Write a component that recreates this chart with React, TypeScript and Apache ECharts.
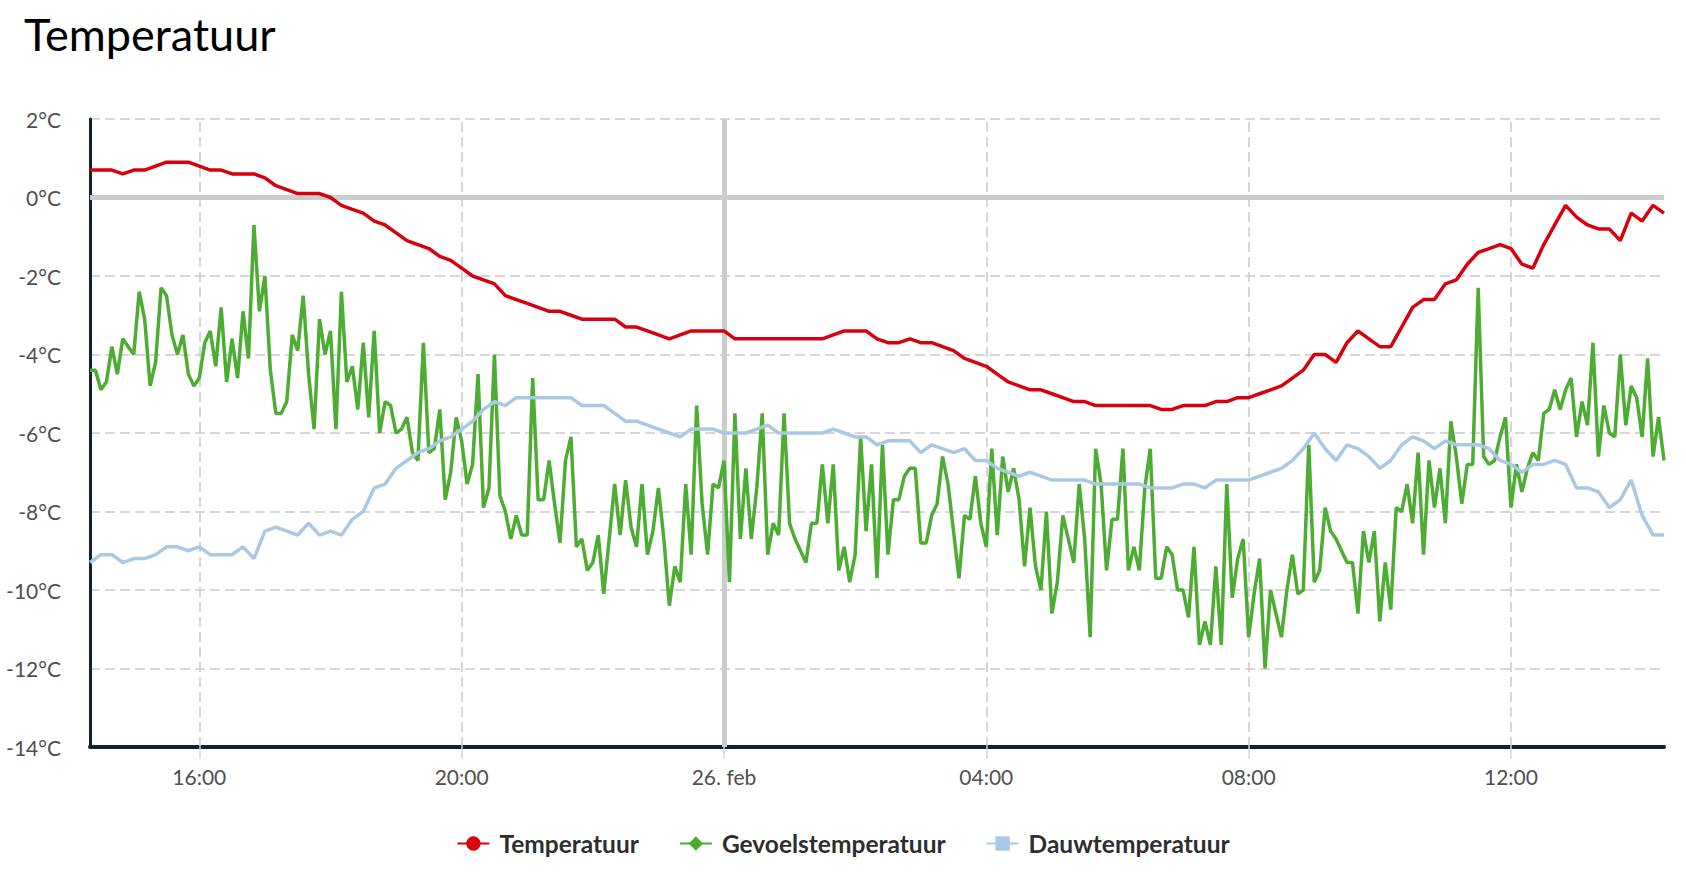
import React, { useEffect, useRef } from "react";
import * as echarts from "echarts";

// minutes since 25 Feb 00:00 — first sample 14:20
const START_MIN = 860;
const END_MIN = 2300;
const STEP_TEMP = 10; // minutes between Temperatuur / Dauwtemperatuur samples
const STEP_FEEL = 5; // minutes between Gevoelstemperatuur samples

const xTickMinutes = [960, 1200, 1440, 1680, 1920, 2160];
const xTickLabels = ["16:00", "20:00", "26. feb", "04:00", "08:00", "12:00"];
const dashedGridMinutes = [960, 1200, 1680, 1920, 2160];
const dayBreakMinute = 1440;

const temperatuur = [
  0.7, 0.7, 0.7, 0.6, 0.7, 0.7, 0.8, 0.9, 0.9, 0.9, 0.8, 0.7,
  0.7, 0.6, 0.6, 0.6, 0.5, 0.3, 0.2, 0.1, 0.1, 0.1, 0.0, -0.2,
  -0.3, -0.4, -0.6, -0.7, -0.9, -1.1, -1.2, -1.3, -1.5, -1.6, -1.8, -2.0,
  -2.1, -2.2, -2.5, -2.6, -2.7, -2.8, -2.9, -2.9, -3.0, -3.1, -3.1, -3.1,
  -3.1, -3.3, -3.3, -3.4, -3.5, -3.6, -3.5, -3.4, -3.4, -3.4, -3.4, -3.6,
  -3.6, -3.6, -3.6, -3.6, -3.6, -3.6, -3.6, -3.6, -3.5, -3.4, -3.4, -3.4,
  -3.6, -3.7, -3.7, -3.6, -3.7, -3.7, -3.8, -3.9, -4.1, -4.2, -4.3, -4.5,
  -4.7, -4.8, -4.9, -4.9, -5.0, -5.1, -5.2, -5.2, -5.3, -5.3, -5.3, -5.3,
  -5.3, -5.3, -5.4, -5.4, -5.3, -5.3, -5.3, -5.2, -5.2, -5.1, -5.1, -5.0,
  -4.9, -4.8, -4.6, -4.4, -4.0, -4.0, -4.2, -3.7, -3.4, -3.6, -3.8, -3.8,
  -3.3, -2.8, -2.6, -2.6, -2.2, -2.1, -1.7, -1.4, -1.3, -1.2, -1.3, -1.7,
  -1.8, -1.2, -0.7, -0.2, -0.5, -0.7, -0.8, -0.8, -1.1, -0.4, -0.6, -0.2,
  -0.4,
];

const dauwtemperatuur = [
  -9.3, -9.1, -9.1, -9.3, -9.2, -9.2, -9.1, -8.9, -8.9, -9.0, -8.9, -9.1,
  -9.1, -9.1, -8.9, -9.2, -8.5, -8.4, -8.5, -8.6, -8.3, -8.6, -8.5, -8.6,
  -8.2, -8.0, -7.4, -7.3, -6.9, -6.7, -6.5, -6.4, -6.2, -6.1, -5.9, -5.7,
  -5.4, -5.2, -5.3, -5.1, -5.1, -5.1, -5.1, -5.1, -5.1, -5.3, -5.3, -5.3,
  -5.5, -5.7, -5.7, -5.8, -5.9, -6.0, -6.1, -5.9, -5.9, -5.9, -6.0, -6.0,
  -6.0, -5.9, -5.8, -6.0, -6.0, -6.0, -6.0, -6.0, -5.9, -6.0, -6.1, -6.1,
  -6.3, -6.2, -6.2, -6.2, -6.5, -6.3, -6.4, -6.5, -6.4, -6.7, -6.7, -6.9,
  -7.0, -7.1, -7.0, -7.1, -7.2, -7.2, -7.2, -7.2, -7.3, -7.3, -7.3, -7.3,
  -7.3, -7.4, -7.4, -7.4, -7.3, -7.3, -7.4, -7.2, -7.2, -7.2, -7.2, -7.1,
  -7.0, -6.9, -6.7, -6.4, -6.0, -6.4, -6.7, -6.3, -6.4, -6.6, -6.9, -6.7,
  -6.3, -6.1, -6.2, -6.4, -6.2, -6.3, -6.3, -6.3, -6.4, -6.7, -6.8, -7.0,
  -6.8, -6.8, -6.7, -6.8, -7.4, -7.4, -7.5, -7.9, -7.7, -7.2, -8.1, -8.6,
  -8.6,
];

const gevoelstemperatuur = [
  -4.4, -4.4, -4.9, -4.7, -3.8, -4.5, -3.6, -3.8, -4.0, -2.4, -3.1, -4.8,
  -4.2, -2.3, -2.5, -3.5, -4.0, -3.5, -4.5, -4.8, -4.6, -3.7, -3.4, -4.3,
  -2.8, -4.7, -3.6, -4.6, -2.9, -4.1, -0.7, -2.9, -2.0, -4.4, -5.5, -5.5,
  -5.2, -3.5, -3.9, -2.5, -4.5, -5.9, -3.1, -4.0, -3.4, -5.9, -2.4, -4.7,
  -4.3, -5.4, -3.7, -5.6, -3.4, -6.0, -5.2, -5.3, -6.0, -5.9, -5.6, -6.5,
  -6.7, -3.7, -6.5, -6.4, -5.4, -7.7, -7.0, -5.6, -6.2, -7.3, -6.8, -4.5,
  -7.9, -7.4, -4.0, -7.6, -8.0, -8.7, -8.1, -8.6, -8.6, -4.6, -7.7, -7.7,
  -6.7, -7.8, -8.8, -6.7, -6.1, -8.9, -8.7, -9.5, -9.3, -8.6, -10.1, -8.7,
  -7.3, -8.6, -7.2, -8.4, -8.9, -7.3, -9.1, -8.5, -7.4, -8.7, -10.4, -9.4,
  -9.8, -7.3, -9.1, -5.3, -7.8, -9.1, -7.3, -7.4, -6.7, -9.8, -5.5, -8.7,
  -6.9, -8.7, -7.4, -5.5, -9.1, -8.3, -8.6, -5.5, -8.3, -8.7, -9.0, -9.3,
  -8.3, -8.3, -6.8, -8.3, -6.8, -9.5, -8.9, -9.8, -9.1, -6.1, -8.5, -6.8,
  -9.7, -6.3, -9.1, -7.7, -7.7, -7.1, -6.9, -6.9, -8.8, -8.8, -8.1, -7.8,
  -6.6, -7.3, -8.5, -9.7, -8.1, -8.2, -7.1, -8.3, -8.9, -6.4, -8.6, -6.6,
  -7.5, -6.9, -7.7, -9.4, -7.9, -9.4, -10.0, -8.0, -10.6, -9.8, -8.1, -8.7,
  -9.3, -7.3, -8.7, -11.2, -6.4, -7.3, -9.5, -8.2, -8.2, -6.4, -9.5, -8.9,
  -9.5, -7.4, -6.4, -9.7, -9.7, -8.9, -9.1, -10.0, -10.0, -10.7, -8.9, -11.4,
  -10.8, -11.4, -9.4, -11.4, -7.3, -10.2, -9.2, -8.7, -11.2, -10.1, -9.2, -12.0,
  -10.0, -10.6, -11.2, -10.0, -9.1, -10.1, -10.0, -6.3, -9.8, -9.5, -7.9, -8.5,
  -8.7, -9.0, -9.3, -9.3, -10.6, -8.5, -9.3, -8.5, -10.8, -9.3, -10.5, -7.9,
  -8.0, -7.3, -8.3, -6.5, -9.1, -6.7, -7.9, -6.9, -8.3, -5.7, -6.6, -7.8,
  -6.8, -6.8, -2.3, -6.6, -6.8, -6.7, -6.1, -5.6, -7.9, -6.8, -7.5, -6.9,
  -6.5, -6.7, -5.5, -5.4, -4.9, -5.4, -4.9, -4.6, -6.1, -5.2, -5.8, -3.7,
  -6.6, -5.3, -6.0, -6.1, -4.0, -5.8, -4.8, -5.1, -6.1, -4.1, -6.6, -5.6,
  -6.7,
];

const seriesNames = ["Temperatuur", "Gevoelstemperatuur", "Dauwtemperatuur"];
const seriesColors = ["#d8000e", "#4dad33", "#a9c9e3"];
const seriesSymbols = ["circle", "diamond", "rect"];

const FONT = "Lato, 'Noto Sans', sans-serif";

function toPairs(values: number[], step: number) {
  return values.map((v, i) => [START_MIN + i * step, v]);
}

function buildOption() {
  const dataSets = [
    toPairs(temperatuur, STEP_TEMP),
    toPairs(gevoelstemperatuur, STEP_FEEL),
    toPairs(dauwtemperatuur, STEP_TEMP),
  ];

  const lineSeries = seriesNames.map((name, i) => ({
    name,
    type: "line",
    data: dataSets[i],
    symbol: seriesSymbols[i],
    symbolSize: 12,
    showSymbol: false,
    z: 3 + i,
    itemStyle: { color: seriesColors[i] },
    lineStyle: { color: seriesColors[i], width: 3.5 },
    emphasis: { disabled: true },
  }));

  const gridSeries = {
    type: "line",
    data: [],
    silent: true,
    z: 1,
    markLine: {
      silent: true,
      symbol: "none",
      z: 1,
      label: { show: false },
      emphasis: { disabled: true },
      data: [
        ...dashedGridMinutes.map((m) => ({
          xAxis: m,
          lineStyle: { type: [10, 5], width: 1.5, color: "#c9c9c9" },
        })),
        {
          xAxis: dayBreakMinute,
          lineStyle: { type: "solid", width: 5, color: "#cccccc" },
        },
        {
          yAxis: 0,
          lineStyle: { type: "solid", width: 5, color: "#cccccc" },
        },
      ],
    },
  };

  return {
    animation: false,
    backgroundColor: "#ffffff",
    title: {
      text: "Temperatuur",
      left: 19,
      top: 6,
      textStyle: {
        fontFamily: FONT,
        fontSize: 45,
        fontWeight: "normal",
        color: "#000000",
      },
    },
    legend: {
      data: seriesNames,
      left: "center",
      top: 826,
      itemWidth: 32,
      itemHeight: 18,
      itemGap: 40,
      textStyle: {
        fontFamily: FONT,
        fontSize: 24.5,
        fontWeight: "bold",
        color: "#2e2e2e",
        padding: [0, 0, 0, 5],
      },
    },
    grid: { left: 90, top: 119, width: 1574, height: 628, containLabel: false },
    xAxis: {
      type: "value",
      min: START_MIN,
      max: END_MIN,
      axisLine: { show: true, onZero: false, lineStyle: { color: "#0f2333", width: 4 } },
      axisTick: {
        show: true,
        customValues: xTickMinutes,
        length: 12,
        lineStyle: { color: "#ccd6eb", width: 1.5 },
      },
      axisLabel: {
        customValues: xTickMinutes,
        margin: 19,
        fontFamily: FONT,
        fontSize: 21,
        color: "#505050",
        formatter: (v: number) => {
          const idx = xTickMinutes.indexOf(v);
          return idx >= 0 ? xTickLabels[idx] : "";
        },
      },
      splitLine: { show: false },
    },
    yAxis: {
      type: "value",
      min: -14,
      max: 2,
      interval: 2,
      axisLine: { show: true, lineStyle: { color: "#0f2333", width: 3 } },
      axisTick: { show: false },
      axisLabel: {
        margin: 29,
        fontFamily: FONT,
        fontSize: 21,
        color: "#505050",
        formatter: (v: number) => `${v}°C`,
      },
      splitLine: {
        show: true,
        lineStyle: { type: [10, 5], width: 1.5, color: "#c9c9c9" },
      },
    },
    series: [gridSeries, ...lineSeries],
  };
}

export default function App() {
  const ref = useRef<HTMLDivElement>(null);
  useEffect(() => {
    if (!ref.current) return;
    const chart = echarts.init(ref.current, null, { renderer: "svg" });
    chart.setOption(buildOption() as any);
    return () => chart.dispose();
  }, []);
  return (
    <div
      ref={ref}
      style={{
        position: "fixed",
        left: 0,
        top: 0,
        width: 1686,
        height: 886,
        background: "#ffffff",
      }}
    />
  );
}
